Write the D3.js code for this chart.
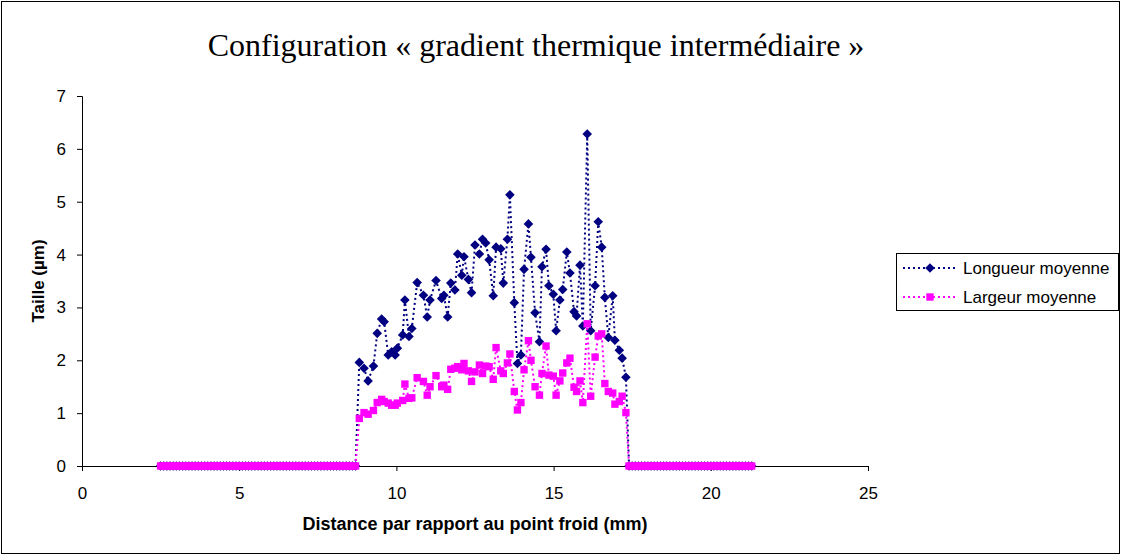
<!DOCTYPE html>
<html>
<head>
<meta charset="utf-8">
<script src="https://cdn.jsdelivr.net/npm/d3@7"></script>
<style>
  html, body { margin: 0; padding: 0; background: #fff; }
  svg { display: block; }
</style>
</head>
<body>
<svg id="chart" width="1122" height="556"></svg>
<script>
// Distances (mm) of the sampling points before the measured zone (size 0)
const distanceAvant = [2.5, 2.6, 2.7, 2.8, 2.9, 3.0, 3.1, 3.2, 3.3, 3.4, 3.5, 3.6, 3.7, 3.8, 3.9,
  4.0, 4.1, 4.2, 4.3, 4.4, 4.5, 4.6, 4.7, 4.8, 4.9, 5.0, 5.1, 5.2, 5.3, 5.4, 5.5, 5.6, 5.7, 5.8, 5.9,
  6.0, 6.1, 6.2, 6.3, 6.4, 6.5, 6.6, 6.7, 6.8, 6.9, 7.0, 7.1, 7.2, 7.3, 7.4, 7.5, 7.6, 7.7, 7.8, 7.9,
  8.0, 8.1, 8.2, 8.3, 8.4, 8.5, 8.6, 8.7];

// Distances (mm) inside the measured zone
const distanceMesure = [8.82, 8.97, 9.10, 9.27, 9.39, 9.53, 9.61, 9.74, 9.85, 9.96,
  10.03, 10.20, 10.27, 10.40, 10.49, 10.66, 10.86, 10.98, 11.07, 11.26,
  11.44, 11.51, 11.63, 11.73, 11.86, 11.95, 12.08, 12.15, 12.29, 12.39,
  12.50, 12.64, 12.74, 12.84, 12.95, 13.08, 13.17, 13.32, 13.40, 13.53,
  13.61, 13.75, 13.85, 13.96, 14.06, 14.20, 14.28, 14.41, 14.55, 14.63,
  14.76, 14.85, 14.99, 15.08, 15.20, 15.29, 15.42, 15.52, 15.65, 15.73,
  15.84, 15.93, 16.07, 16.18, 16.32, 16.42, 16.53, 16.63, 16.74, 16.88,
  16.95, 17.09, 17.18, 17.30];

// Distances (mm) of the sampling points after the measured zone (size 0)
const distanceApres = [17.4, 17.5, 17.6, 17.7, 17.8, 17.9, 18.0, 18.1, 18.2, 18.3, 18.4, 18.5,
  18.6, 18.7, 18.8, 18.9, 19.0, 19.1, 19.2, 19.3, 19.4, 19.5, 19.6, 19.7, 19.8, 19.9,
  20.0, 20.1, 20.2, 20.3, 20.4, 20.5, 20.6, 20.7, 20.8, 20.9, 21.0, 21.1, 21.2, 21.3];

// Mean length (µm) in the measured zone
const longueurMoyenne = [1.96, 1.85, 1.61, 1.89, 2.51, 2.78, 2.73, 2.10, 2.16, 2.10,
  2.23, 2.48, 3.14, 2.45, 2.60, 3.47, 3.23, 2.82, 3.14, 3.51,
  3.17, 3.23, 2.82, 3.46, 3.33, 4.01, 3.61, 3.96, 3.53, 3.28,
  4.18, 4.01, 4.29, 4.22, 3.90, 3.22, 4.14, 4.11, 3.46, 4.29,
  5.13, 3.09, 1.94, 2.10, 3.72, 4.58, 3.95, 2.90, 2.35, 3.77,
  4.10, 3.41, 3.25, 2.56, 3.14, 3.34, 4.05, 3.65, 2.92, 2.84,
  3.80, 2.65, 6.28, 2.56, 3.41, 4.62, 4.14, 3.19, 2.43, 3.22,
  2.38, 2.19, 2.04, 1.68];

// Mean width (µm) in the measured zone
const largeurMoyenne = [0.90, 1.01, 0.98, 1.05, 1.20, 1.26, 1.22, 1.19, 1.15, 1.15,
  1.19, 1.24, 1.55, 1.28, 1.29, 1.67, 1.60, 1.34, 1.50, 1.71,
  1.50, 1.53, 1.45, 1.83, 1.85, 1.88, 1.82, 1.94, 1.80, 1.60,
  1.78, 1.91, 1.75, 1.89, 1.88, 1.64, 2.24, 1.80, 1.75, 1.95,
  2.12, 1.41, 1.06, 1.20, 1.82, 2.37, 2.00, 1.50, 1.34, 1.75,
  2.27, 1.72, 1.70, 1.34, 1.61, 1.76, 1.95, 2.04, 1.49, 1.41,
  1.61, 1.20, 2.69, 1.32, 2.06, 2.46, 2.50, 1.56, 1.41, 1.38,
  1.17, 1.22, 1.32, 1.01];

// Size outside the measured zone
const tailleHorsZone = 0;

const xTicks = [0, 5, 10, 15, 20, 25];
const yTicks = [0, 1, 2, 3, 4, 5, 6, 7];

const titre = "Configuration \u00ab gradient thermique interm\u00e9diaire \u00bb";
const titreX = "Distance par rapport au point froid (mm)";
const titreY = "Taille (\u00b5m)";
const nomsSeries = ["Longueur moyenne", "Largeur moyenne"];
const couleurs = ["#000080", "#FF00FF"];

// Build the full series (zero zones + measured zone)
function serie(valeurs) {
  return distanceAvant.map(d => ({ x: d, y: tailleHorsZone }))
    .concat(distanceMesure.map((d, i) => ({ x: d, y: valeurs[i] })))
    .concat(distanceApres.map(d => ({ x: d, y: tailleHorsZone })));
}
const series = [serie(longueurMoyenne), serie(largeurMoyenne)];

const svg = d3.select("#chart");
const sans = "'Liberation Sans', Arial, sans-serif";

// Outer frame
svg.append("rect")
  .attr("x", 1.5).attr("y", 1.5).attr("width", 1118).attr("height", 552)
  .attr("fill", "#fff").attr("stroke", "#000").attr("stroke-width", 1);

const x = d3.scaleLinear().domain([0, 25]).range([82, 868]);
const y = d3.scaleLinear().domain([0, 7]).range([466, 96]);

// Title
svg.append("text")
  .attr("x", 536).attr("y", 56)
  .attr("text-anchor", "middle")
  .attr("font-family", "'Liberation Serif', 'Times New Roman', serif")
  .attr("font-size", 32)
  .text(titre);

// Axes
const axeX = svg.append("g").attr("transform", `translate(0,${y(0)})`)
  .call(d3.axisBottom(x).tickValues(xTicks).tickSize(5).tickPadding(16).tickFormat(d3.format("d")));
const axeY = svg.append("g").attr("transform", `translate(${x(0)},0)`)
  .call(d3.axisLeft(y).tickValues(yTicks).tickSize(5).tickPadding(11).tickFormat(d3.format("d")));
[axeX, axeY].forEach(a => {
  a.select(".domain").attr("stroke", "#000").attr("stroke-width", 1);
  a.selectAll(".tick line").attr("stroke", "#000");
  a.selectAll(".tick text").attr("font-family", sans).attr("font-size", 17).attr("fill", "#000");
});

// Axis titles
svg.append("text")
  .attr("x", 475).attr("y", 530)
  .attr("text-anchor", "middle")
  .attr("font-family", sans).attr("font-size", 18).attr("font-weight", "bold")
  .text(titreX);
svg.append("text")
  .attr("transform", "translate(44,281) rotate(-90)")
  .attr("text-anchor", "middle")
  .attr("font-family", sans).attr("font-size", 17).attr("font-weight", "bold")
  .text(titreY);

// Marker shapes
const losange = r => `M0,${-r}L${r},0L0,${r}L${-r},0Z`;
const carre = r => `M${-r},${-r}H${r}V${r}H${-r}Z`;
const formes = [losange(4.8), carre(3.7)];

const ligne = d3.line().x(d => x(d.x)).y(d => y(d.y));

series.forEach((s, i) => {
  const g = svg.append("g");
  g.append("path")
    .datum(s)
    .attr("d", ligne)
    .attr("fill", "none")
    .attr("stroke", couleurs[i])
    .attr("stroke-width", 2)
    .attr("stroke-dasharray", "2,3");
  g.selectAll("path.m")
    .data(s)
    .join("path")
    .attr("class", "m")
    .attr("transform", d => `translate(${x(d.x)},${y(d.y)})`)
    .attr("d", formes[i])
    .attr("fill", couleurs[i]);
});

// Legend
const leg = svg.append("g");
leg.append("rect")
  .attr("x", 896.5).attr("y", 253.5).attr("width", 222).attr("height", 57)
  .attr("fill", "#fff").attr("stroke", "#000").attr("stroke-width", 1);
nomsSeries.forEach((nom, i) => {
  const yy = 268 + i * 29;
  leg.append("line")
    .attr("x1", 903).attr("x2", 956).attr("y1", yy).attr("y2", yy)
    .attr("stroke", couleurs[i]).attr("stroke-width", 2).attr("stroke-dasharray", "2,3");
  leg.append("path")
    .attr("transform", `translate(930,${yy})`)
    .attr("d", formes[i]).attr("fill", couleurs[i]);
  leg.append("text")
    .attr("x", 963).attr("y", yy + 6)
    .attr("font-family", sans).attr("font-size", 17)
    .text(nom);
});
</script>
</body>
</html>
